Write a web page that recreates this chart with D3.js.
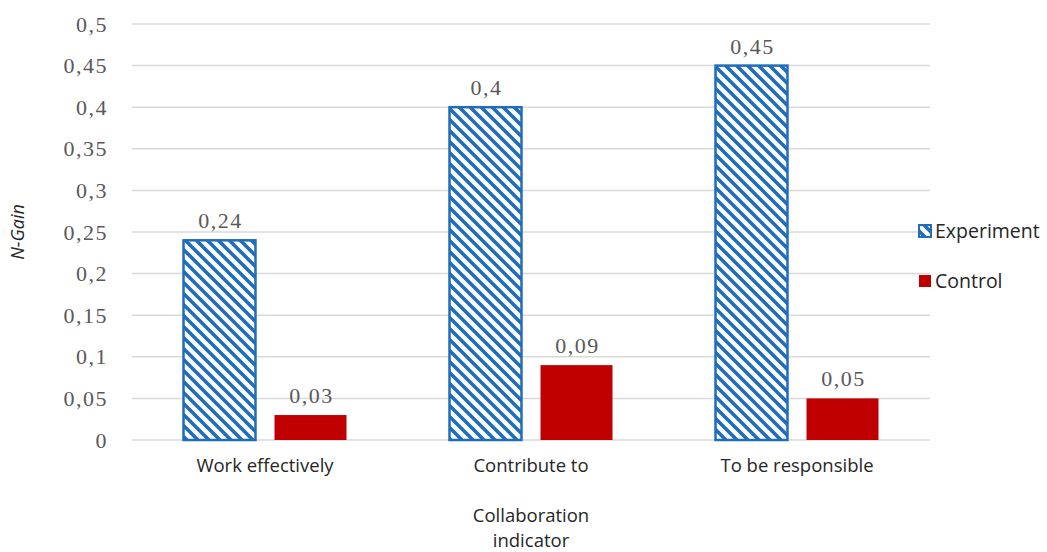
<!DOCTYPE html>
<html><head><meta charset="utf-8">
<script src="https://cdn.jsdelivr.net/npm/d3@7"></script>
<style>body{margin:0;background:#fff}</style>
</head><body>
<svg id="c" width="1047" height="552"></svg>
<script>
const categories = ["Work effectively", "Contribute to", "To be responsible"];
const seriesNames = ["Experiment", "Control"];
const experiment = [0.24, 0.40, 0.45];
const control = [0.03, 0.09, 0.05];
const yTicks = [0, 0.05, 0.1, 0.15, 0.2, 0.25, 0.3, 0.35, 0.4, 0.45, 0.5];

const svg = d3.select("#c");
const mLeft = 132, mRight = 930, mTop = 24, mBottom = 440;
const x0 = d3.scaleBand().domain(categories).range([mLeft, mRight]).paddingInner(0).paddingOuter(0);
const x1 = d3.scaleBand().domain(seriesNames).range([0, x0.bandwidth()]).paddingInner(0.209).paddingOuter(0.566);
const y = d3.scaleLinear().domain([0, 0.5]).range([mBottom, mTop]);
const fmt = v => String(v).replace(".", ",");
const serifStyle = sel => sel.attr("font-family", "Liberation Serif, serif").attr("font-size", 22)
  .attr("letter-spacing", 1.5).attr("fill", "#595959");

const defs = svg.append("defs");
const pat = defs.append("pattern").attr("id", "hatch").attr("patternUnits", "userSpaceOnUse")
  .attr("width", 11).attr("height", 11);
pat.append("rect").attr("width", 11).attr("height", 11).attr("fill", "#fff");
pat.append("path").attr("d", "M-3,-3 L14,14 M-3,8 L3,14 M8,-3 L14,3")
  .attr("stroke", "#1f6dbb").attr("stroke-width", 3.6);

// grid
svg.append("g").selectAll("line").data(yTicks).join("line")
  .attr("x1", mLeft).attr("x2", mRight)
  .attr("y1", d => y(d)).attr("y2", d => y(d))
  .attr("stroke", "#d9d9d9").attr("stroke-width", 1.5);

// y tick labels
const yAxis = svg.append("g").attr("transform", `translate(${mLeft - 21},0)`)
  .call(d3.axisLeft(y).tickValues(yTicks).tickFormat(fmt).tickSize(0));
yAxis.select(".domain").remove();
yAxis.selectAll("text").call(serifStyle);

// bars
const data = [];
categories.forEach((c, i) => {
  data.push({c, s: "Experiment", v: experiment[i]});
  data.push({c, s: "Control", v: control[i]});
});
const g = svg.append("g");
g.selectAll("rect").data(data).join("rect")
  .attr("x", d => x0(d.c) + x1(d.s))
  .attr("y", d => y(d.v))
  .attr("width", x1.bandwidth())
  .attr("height", d => y(0) - y(d.v))
  .attr("fill", d => d.s === "Experiment" ? "url(#hatch)" : "#c00000")
  .attr("stroke", d => d.s === "Experiment" ? "#1f6dbb" : "none")
  .attr("stroke-width", 2.5);

g.selectAll("text").data(data).join("text")
  .attr("x", d => x0(d.c) + x1(d.s) + x1.bandwidth() / 2 + 1)
  .attr("y", d => y(d.v) - 12)
  .attr("text-anchor", "middle")
  .call(serifStyle)
  .text(d => fmt(d.v));

// x axis labels
const xAxis = svg.append("g").attr("transform", `translate(0,${mBottom})`)
  .call(d3.axisBottom(x0).tickSize(0));
xAxis.select(".domain").remove();
xAxis.selectAll("text").attr("font-family", "Open Sans, sans-serif").attr("font-size", 18.5)
  .attr("fill", "#262626").attr("y", 0).attr("dy", 32);

// axis titles
svg.append("text").attr("transform", "translate(24,232) rotate(-90)")
  .attr("text-anchor", "middle").attr("font-family", "Open Sans, sans-serif")
  .attr("font-style", "italic").attr("font-size", 18).attr("fill", "#262626").text("N-Gain");
const xt = svg.append("text").attr("text-anchor", "middle").attr("font-family", "Open Sans, sans-serif")
  .attr("font-size", 18.5).attr("fill", "#262626");
xt.append("tspan").attr("x", 531).attr("y", 522).text("Collaboration");
xt.append("tspan").attr("x", 531).attr("y", 547).text("indicator");

// legend
const leg = svg.append("g").selectAll("g").data(seriesNames).join("g")
  .attr("transform", (d, i) => `translate(919,${231 + i * 50})`);
leg.append("rect").attr("x", 0).attr("y", -6).attr("width", 12).attr("height", 12)
  .attr("fill", d => d === "Experiment" ? "url(#hatch)" : "#c00000")
  .attr("stroke", d => d === "Experiment" ? "#1f6dbb" : "none").attr("stroke-width", 2);
leg.append("text").attr("x", 16).attr("y", 0).attr("dy", "0.35em")
  .attr("font-family", "Open Sans, sans-serif").attr("font-size", 19.5).attr("fill", "#262626")
  .text(d => d);
</script>
</body></html>
